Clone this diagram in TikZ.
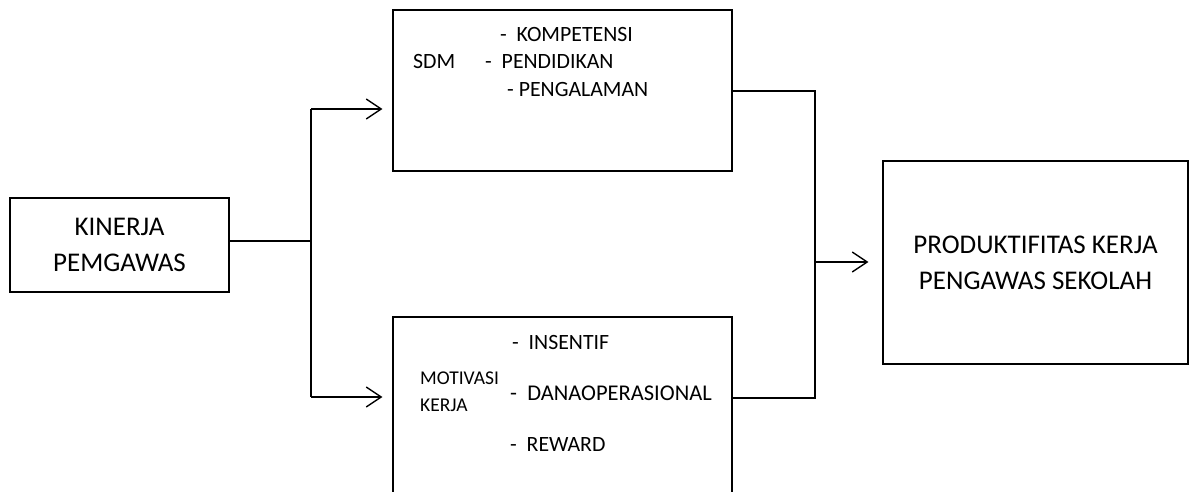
\documentclass[tikz,border=0pt]{standalone}
\usepackage{fontspec}
\setmainfont{Carlito}
\usetikzlibrary{arrows.meta}
\begin{document}
\begin{tikzpicture}[x=1pt,y=-1pt,
  box/.style={draw,line width=1.1pt,rectangle,inner sep=0pt},
  big/.style={font=\fontsize{27}{36}\selectfont,align=center},
  item/.style={font=\fontsize{21.8}{24}\selectfont,inner sep=0pt,anchor=west},
  small/.style={font=\fontsize{19.5}{27}\selectfont,inner sep=0pt,anchor=west,align=left},
  conn/.style={line width=1.4pt},
  arr/.style={conn,-{Straight Barb[length=15pt,width=20pt,line width=1.4pt]}}]
\clip (0,0) rectangle (1189,492);
\fill[white] (0,0) rectangle (1189,492);
% boxes
\node[box,big,minimum width=219pt,minimum height=94pt] (kin) at (119.5,245) {KINERJA\\PEMGAWAS};
\node[box,minimum width=339pt,minimum height=161pt] (sdm) at (562.5,90.5) {};
\node[box,minimum width=339pt,minimum height=220pt] (mot) at (562.5,427) {};
\node[box,big,minimum width=305pt,minimum height=203pt] (prod) at (1035.5,262.5) {PRODUKTIFITAS KERJA\\PENGAWAS SEKOLAH};
% SDM texts
\node[item] (t1) at (500,35) {-\ \ KOMPETENSI};
\node[item] (t0) at (413,62) {SDM};
\node[item] (t2) at (485,62) {-\ \ PENDIDIKAN};
\node[item] (t3) at (507,90) {- PENGALAMAN};
% Motivasi texts
\node[item] (m1) at (512,342) {-\ \ INSENTIF};
\node[small] (m0) at (420,392) {MOTIVASI\\KERJA};
\node[item,font=\fontsize{22.5}{24}\selectfont] (m2) at (510,393) {-\ \ DANAOPERASIONAL};
\node[item] (m3) at (510,445) {-\ \ REWARD};
% connectors
\coordinate (j1) at (311,241);
\coordinate (j1t) at (311,109);
\coordinate (j1b) at (311,397);
\coordinate (j2t) at (815,91);
\coordinate (j2b) at (815,398);
\coordinate (j2m) at (815,262);
\draw[conn] (kin.east |- j1) -- (j1);
\draw[conn] (j1t) -- (j1b);
\draw[arr,shorten >=10pt] (j1t) -- (sdm.west |- j1t);
\draw[arr,shorten >=10pt] (j1b) -- (mot.west |- j1b);
\draw[conn] (sdm.east |- j2t) -- (j2t) -- (j2b) -- (mot.east |- j2b);
\draw[arr,shorten >=14pt] (j2m) -- (prod.west |- j2m);
\end{tikzpicture}
\end{document}
